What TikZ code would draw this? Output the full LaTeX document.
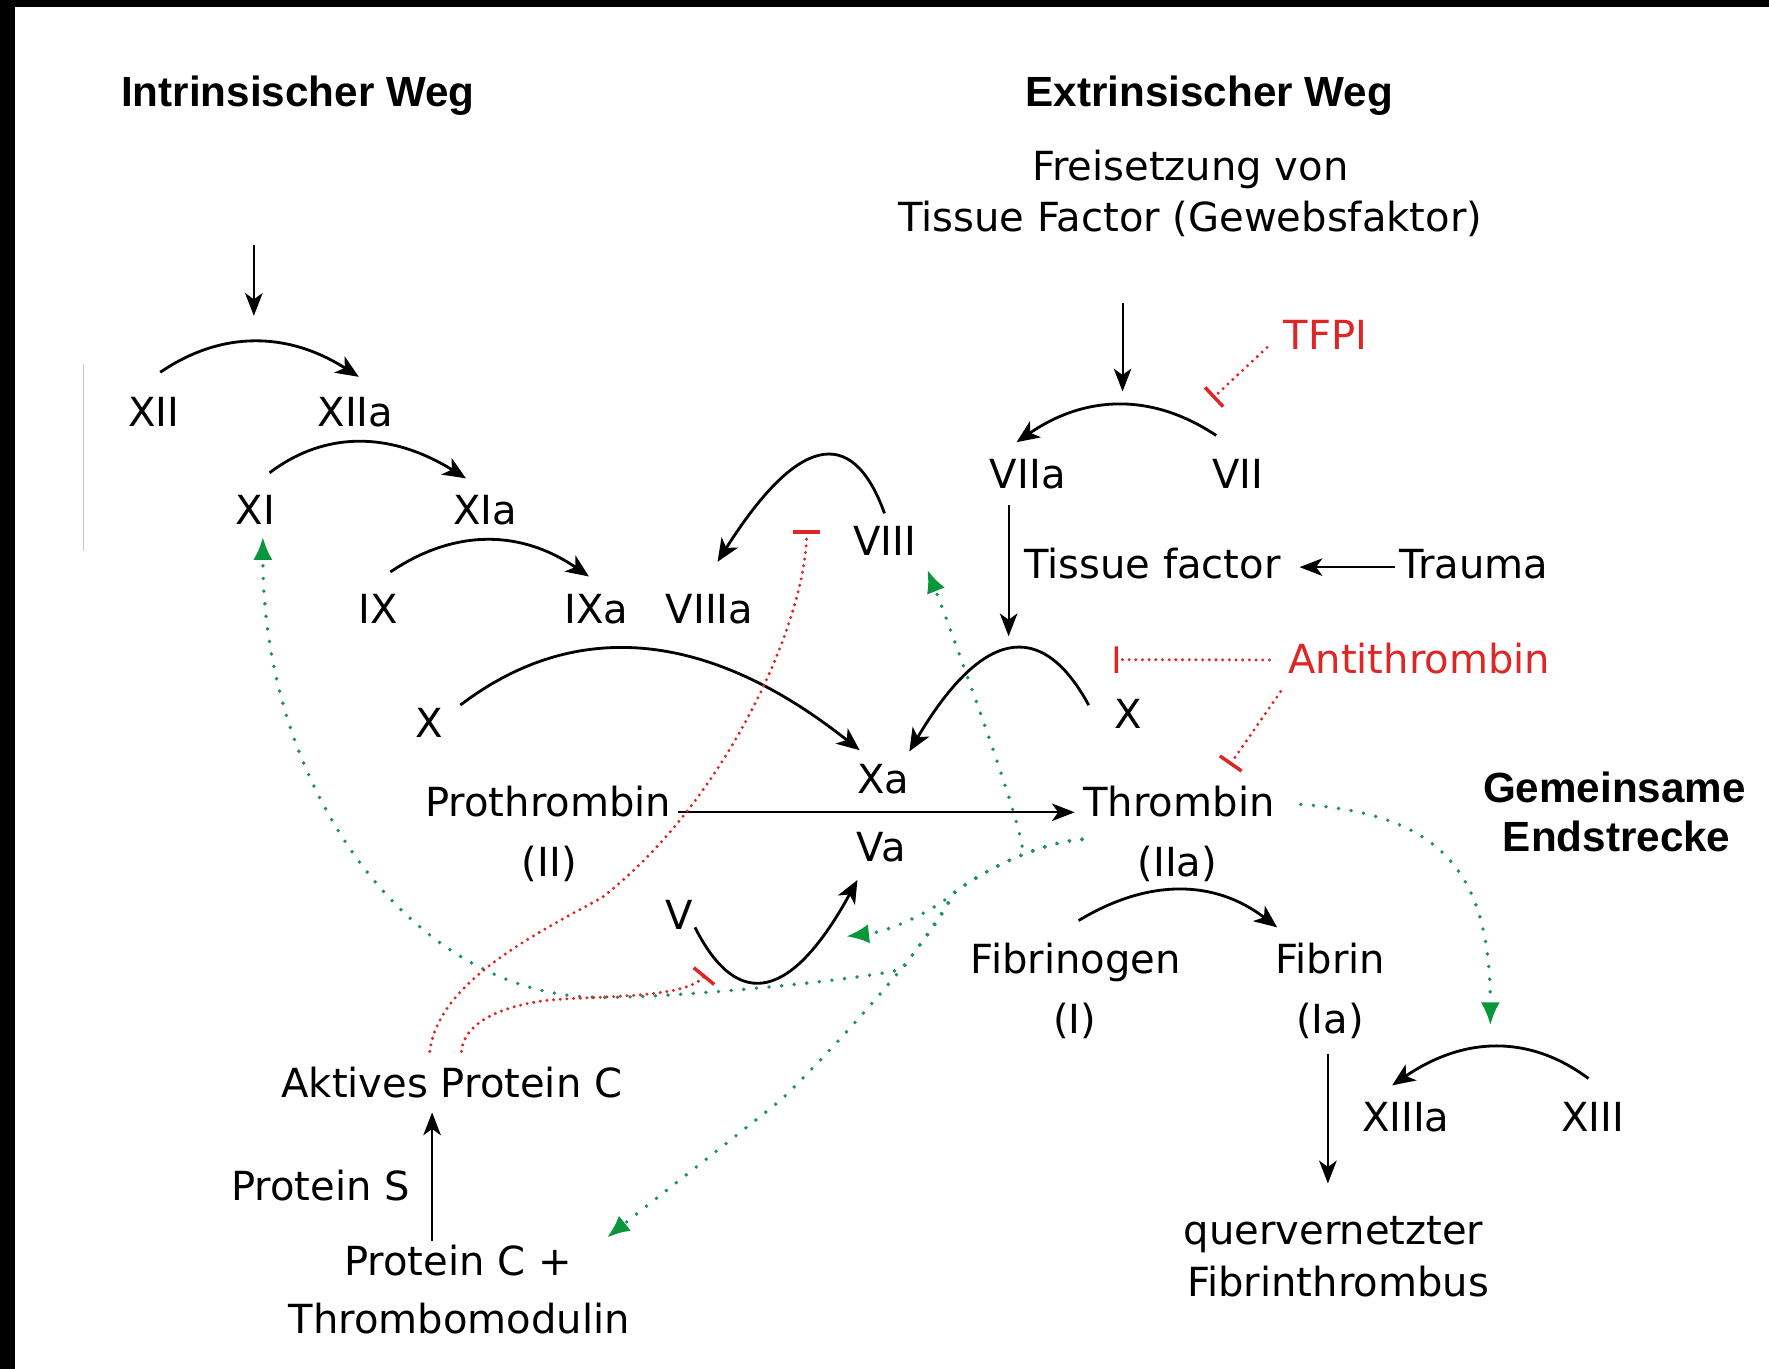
\documentclass[tikz,border=0pt]{standalone}
\usepackage{fontspec}
\newfontfamily\dvfont{DejaVu Sans}
\newfontfamily\hdfont{Liberation Sans}
\usetikzlibrary{arrows.meta,calc}
\definecolor{ired}{RGB}{222,38,38}
\definecolor{gdot}{RGB}{30,145,100}
\definecolor{garr}{RGB}{10,150,60}
\begin{document}
\begin{tikzpicture}[x=0.011282cm,y=-0.011282cm,
  lbl/.style={font=\dvfont\fontsize{11.4}{13.7}\selectfont, inner sep=1pt, anchor=base},
  hd/.style={font=\hdfont\bfseries\fontsize{12}{14}\selectfont, inner sep=1pt, anchor=base},
  inh/.style={lbl, text=ired},
  arcarr/.style={line width=0.8pt, -{Stealth[length=6.5pt,width=5.5pt,inset=1.8pt]}},
  sarr/.style={line width=0.6pt, -{Stealth[length=6.5pt,width=5pt,inset=1.8pt]}},
  gdotted/.style={gdot, line width=1.1pt, line cap=round, dash pattern=on 0pt off 3.6pt, -{Latex[length=6.5pt,width=5.5pt,color=garr]}},
  rdotted/.style={ired, line width=0.95pt, line cap=round, dash pattern=on 0pt off 1.9pt, -{Bar[width=7.5pt,line width=1pt]}}
]
\useasboundingbox (0,0) rectangle (1568,1213);
\fill[white] (0,0) rectangle (1568,1213);
\fill[black] (0,0) rectangle (1568,6);
\fill[black] (0,0) rectangle (13,1213);
\draw[gray!45, line width=0.4pt] (74,323) -- (74,488);

% headings
\node[hd] (intr) at (264,94) {Intrinsischer Weg};
\node[hd] (extr) at (1072,94) {Extrinsischer Weg};
\node[hd] (gem) at (1431,711) {Gemeinsame};
\node[hd] (endst) at (1433,755) {Endstrecke};

% labels
\node[lbl] (frei) at (1055,160) {Freisetzung von};
\node[lbl] (tfg) at (1055,205) {Tissue Factor (Gewebsfaktor)};
\node[inh] (tfpi) at (1175,310) {TFPI};
\node[lbl] (xii) at (136.5,378) {XII};
\node[lbl] (xiia) at (315,378) {XIIa};
\node[lbl] (xi) at (226.5,465) {XI};
\node[lbl] (xia) at (430,465) {XIa};
\node[lbl] (ix) at (335.5,552.5) {IX};
\node[lbl] (ixa) at (528.5,552.5) {IXa};
\node[lbl] (viiia) at (629,552.5) {VIIIa};
\node[lbl] (viii) at (784,492) {VIII};
\node[lbl] (viia) at (911,433) {VIIa};
\node[lbl] (vii) at (1097,433) {VII};
\node[lbl] (tf) at (1021.5,512.7) {Tissue factor};
\node[lbl] (trauma) at (1306.5,512.7) {Trauma};
\node[inh] (anti) at (1258,597) {Antithrombin};
\node[lbl] (xr) at (1000,645.7) {X};
\node[lbl] (xl) at (380.5,654) {X};
\node[lbl] (xa) at (783,703) {Xa};
\node[lbl] (va) at (781,764) {Va};
\node[lbl] (proth) at (486,724) {Prothrombin};
\node[lbl] (fII) at (487,777) {(II)};
\node[lbl] (thr) at (1045,724) {Thrombin};
\node[lbl] (fIIa) at (1043.5,777) {(IIa)};
\node[lbl] (v) at (602,824) {V};
\node[lbl] (fgen) at (953.5,862.6) {Fibrinogen};
\node[lbl] (fI) at (952.5,916) {(I)};
\node[lbl] (fib) at (1179,862.6) {Fibrin};
\node[lbl] (fIa) at (1179,916) {(Ia)};
\node[lbl] (xiiia) at (1246,1002.7) {XIIIa};
\node[lbl] (xiii) at (1411.5,1002.7) {XIII};
\node[lbl] (quer) at (1182,1103) {quervernetzter};
\node[lbl] (fthr) at (1186,1149) {Fibrinthrombus};
\node[lbl] (apc) at (400.5,973) {Aktives Protein C};
\node[lbl] (ps) at (284,1064) {Protein S};
\node[lbl] (pcp) at (406,1131) {Protein C +};
\node[lbl] (tm) at (407,1182) {Thrombomodulin};

% free coordinates
\coordinate (intop) at (225,217);
\coordinate (inbot) at (225,280);
\coordinate (extop) at (995,269);
\coordinate (exbot) at (995,347);
\coordinate (tfbot) at (894,564);
\coordinate (gJ) at (845,792);
\coordinate (gK) at (691,976);
\coordinate (gL) at (800,859);
\coordinate (gM) at (532,884);
\coordinate (rN) at (533,796);
\coordinate (rP) at (482,887);

% black straight arrows
\draw[sarr] (intop) -- (inbot);
\draw[sarr] (extop) -- (exbot);
\draw[sarr] ($(viia.base)+(-17,15)$) -- (tfbot);
\draw[sarr] ($(trauma.base west)+(0,-10)$) -- ($(tf.base east)+(13,-10)$);
\draw[sarr] ($(proth.base east)+(2,-4)$) -- ($(thr.base west)+(-4,-4)$);
\draw[sarr] ($(fIa.base)+(-2,18)$) -- ($(quer.base)+(-5,-54)$);
\draw[sarr] ($(pcp.base)+(-23,-31)$) -- ($(apc.base)+(-17.5,13)$);

% black arcs
\draw[arcarr] ($(xii.base)+(5.5,-48)$) .. controls +(54.7,-37.3) and +(-62.7,-40) .. ($(xiia.base)+(3,-44)$);
\draw[arcarr] ($(xi.base)+(12.5,-46)$) .. controls +(50,-37.7) and +(-66,-41) .. ($(xia.base)+(-17,-41)$);
\draw[arcarr] ($(ix.base)+(10.5,-45.5)$) .. controls +(57.3,-38.7) and +(-60,-41.3) .. ($(ixa.base)+(-6.5,-41.5)$);
\draw[arcarr] ($(viii.base)+(0,-37)$) .. controls +(-29.3,-81) and +(69.3,-109.7) .. ($(viiia.base)+(7,-54.5)$);
\draw[arcarr] ($(xl.base)+(27.5,-29)$) .. controls +(103.3,-78.7) and +(-132.7,-105.3) .. ($(xa.base)+(-21,-38)$);
\draw[arcarr] ($(xr.base)+(-35,-20.7)$) .. controls +(-43,-79) and +(63,-106.3) .. ($(xa.base)+(23,-37)$);
\draw[arcarr] ($(vii.base)+(-19,-47)$) .. controls +(-57,-38) and +(61,-42) .. ($(viia.base)+(-10,-41)$);
\draw[arcarr] ($(fgen.base)+(2.5,-46.6)$) .. controls +(62.7,-38) and +(-54.7,-42) .. ($(fib.base)+(-47,-40.6)$);
\draw[arcarr] ($(xiii.base)+(-3.5,-46.7)$) .. controls +(-52.7,-39.3) and +(63.3,-43.3) .. ($(xiiia.base)+(-12,-40.7)$);
\draw[arcarr] ($(v.base)+(14,-2)$) .. controls +(38.7,76.7) and +(-57.3,104.7) .. ($(va.base)+(-21,16)$);

% green dotted (thrombin feedback)
\coordinate (gS) at ($(thr.base)+(-86,20)$);
\draw[gdotted] (gS) .. controls +(-40,3) and +(22,-18) .. (gJ) .. controls +(-25,20) and +(35,-4) .. ($(v.base)+(148,6)$);
\draw[gdotted] (gS) .. controls +(-40,3) and +(22,-18) .. (gJ) .. controls +(-20,45) and +(35,-33) .. (gK) .. controls +(-45,36) and +(45,-36) .. ($(pcp.base)+(132,-34)$);
\draw[gdotted] (gS) .. controls +(-40,3) and +(22,-18) .. (gJ) .. controls +(-12,22) and +(10,-15) .. (gL) .. controls +(-40,10) and +(60,1) .. (gM) .. controls +(-165,0) and +(0,225) .. ($(xi.base)+(6.5,11)$);
\draw[gdotted] ($(thr.base)+(-139,26)$) .. controls +(-5,-35) and +(12,30) .. ($(viii.base)+(38,13)$);
\draw[gdotted] ($(thr.base)+(108,-11)$) .. controls +(120,8) and +(0,-140) .. ($(xiii.base)+(-90.5,-94)$);

% red inhibitions
\draw[rdotted] ($(tfpi.base)+(-52,-2)$) -- ($(vii.base)+(-22,-80)$);
\draw[rdotted] ($(anti.base west)+(-13,-12)$) -- ($(xr.base)+(-12,-61)$);
\draw[rdotted] ($(anti.base west)+(-3,16)$) -- ($(thr.base)+(45,-46)$);
\draw[rdotted] ($(apc.base)+(-19.5,-41)$) .. controls +(7,-60) and +(-63,34) .. (rN) .. controls +(110,-85) and +(0,80) .. ($(viii.base)+(-69,-22)$);
\draw[rdotted] ($(apc.base)+(8.5,-41)$) .. controls +(2,-24) and +(-42,6) .. (rP) .. controls +(45,-5) and +(-18,22) .. ($(v.base)+(23,40)$);
\end{tikzpicture}
\end{document}
